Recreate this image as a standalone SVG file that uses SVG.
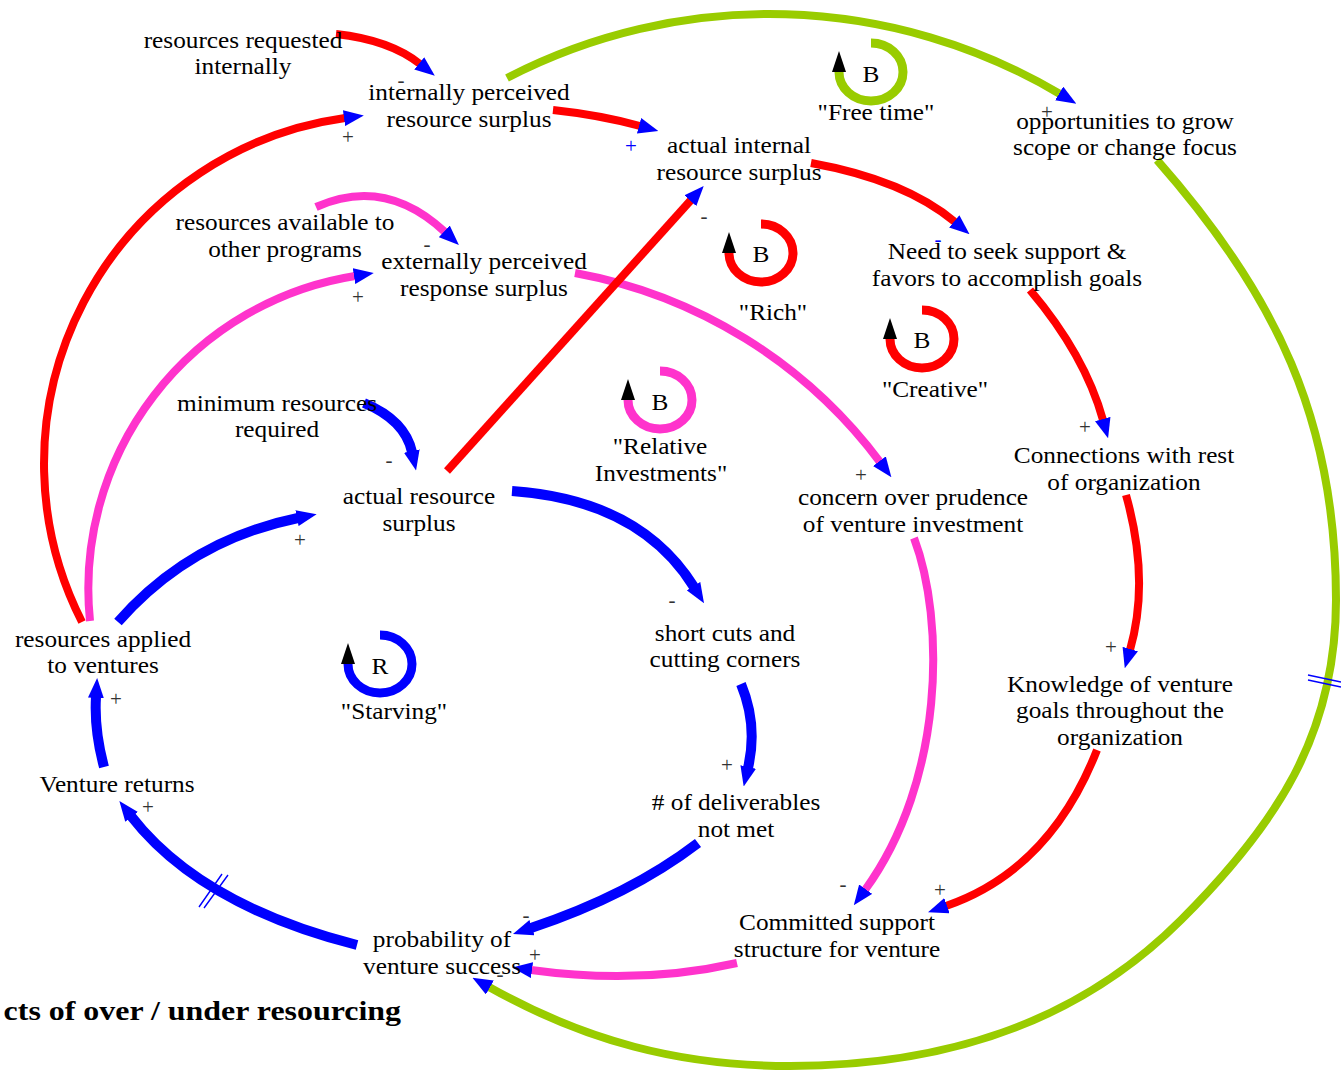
<svg xmlns="http://www.w3.org/2000/svg" width="1341" height="1075" viewBox="0 0 1341 1075" font-family="'Liberation Serif', 'DejaVu Serif', 'Noto Serif', serif">
<style>
text{font-family:'Liberation Serif','DejaVu Serif',serif;font-size:23px;fill:#000;text-anchor:middle}
.pol{font-size:21px;fill:#333}
.polb{font-size:21px;fill:#0000FF}
.title{font-weight:bold;font-size:28px;text-anchor:end}
.c{fill:none;stroke-linecap:butt;marker-end:url(#ah)}
.red{stroke:#FF0000;stroke-width:8}
.mag{stroke:#FF33CC;stroke-width:8}
.grn{stroke:#99CC00;stroke-width:8}
.blu{stroke:#0000FF;stroke-width:10}
.ring{fill:none;stroke-width:9}
.la{fill:#000}
.delay{stroke:#0000FF;stroke-width:1.4;fill:none}
</style>
<defs>
<marker id="ah" viewBox="0 0 20 16" refX="1" refY="8" markerWidth="20" markerHeight="16" markerUnits="userSpaceOnUse" orient="auto"><path d="M0,0 L20,8 L0,16 Z" fill="#0000FF"/></marker>
</defs>
<rect width="1341" height="1075" fill="#fff"/>
<g id="connectors">
<path class="c red" d="M336,34 Q390,40 420,64"/>
<path class="c red" d="M553,110 Q600,115 640,126"/>
<path class="c red" d="M82,622 A349,349 0 0 1 345,118"/>
<path class="c mag" d="M90,621 A316.5,316.5 0 0 1 355,276"/>
<path class="c blu" d="M118,622 Q190,540 298,518"/>
<path class="c mag" d="M316,207 Q385,176 445,232"/>
<path class="c mag" d="M575,273 A491,491 0 0 1 880,462"/>
<path class="c red" d="M447,471 L691,200"/>
<path class="c red" d="M811,163 Q905,180 955,222"/>
<path class="c grn" d="M507,78 A569,569 0 0 1 1060,94"/>
<path class="c grn" d="M1157,160 C1276,295 1336,420 1336,600 C1336,735 1276,825 1181,920 C1075,1026 940,1066 790,1066 C680,1066 585,1041 489,987"/>
<path class="c red" d="M1030,290 Q1085,355 1103,420"/>
<path class="c red" d="M1126,495 Q1150,580 1130,650"/>
<path class="c red" d="M1097,750 Q1050,870 946,906"/>
<path class="c mag" d="M914,538 C945,620 945,780 865,890"/>
<path class="c blu" d="M512,491 Q640,500 694,587"/>
<path class="c blu" d="M364,403 Q405,420 412,452"/>
<path class="c blu" d="M741,684 Q758,725 748,768"/>
<path class="c blu" d="M698,843 Q630,895 531,928"/>
<path class="c mag" d="M737,963 Q640,985 531,970"/>
<path class="c blu" d="M357,945 Q200,905 131,816"/>
<path class="c blu" d="M104,767 Q94,730 96,697"/>
<path class="delay" d="M199,907 L222,874 M204,908 L228,875"/>
<path class="delay" d="M1308,675 L1341,682 M1308,680 L1341,687"/>
</g>
<g id="polarities">
<text class="pol" x="401" y="87">-</text>
<text class="pol" x="348" y="144">+</text>
<text class="polb" x="631" y="153">+</text>
<text class="pol" x="427" y="251">-</text>
<text class="pol" x="358" y="304">+</text>
<text class="pol" x="704" y="223">-</text>
<text class="polb" x="938" y="246">-</text>
<text class="pol" x="1047" y="119">+</text>
<text class="pol" x="389" y="467">-</text>
<text class="pol" x="300" y="547">+</text>
<text class="pol" x="672" y="607">-</text>
<text class="pol" x="116" y="706">+</text>
<text class="pol" x="861" y="482">+</text>
<text class="pol" x="1085" y="434">+</text>
<text class="pol" x="1111" y="654">+</text>
<text class="pol" x="727" y="772">+</text>
<text class="pol" x="843" y="891">-</text>
<text class="pol" x="940" y="897">+</text>
<text class="pol" x="148" y="814">+</text>
<text class="pol" x="526" y="922">-</text>
<text class="pol" x="535" y="962">+</text>
<text class="pol" x="500" y="981">-</text>
</g>
<g id="nodes">
<g id="n-requested" transform="translate(243,0) scale(1.1,1)"><text y="48">resources requested</text><text y="74">internally</text></g>
<g id="n-int-perceived" transform="translate(469,0) scale(1.1,1)"><text y="100">internally perceived</text><text y="127">resource surplus</text></g>
<g id="n-actual-internal" transform="translate(739,0) scale(1.1,1)"><text y="153">actual internal</text><text y="180">resource surplus</text></g>
<g id="n-opportunities" transform="translate(1125,0) scale(1.1,1)"><text y="129">opportunities to grow</text><text y="155">scope or change focus</text></g>
<g id="n-available" transform="translate(285,0) scale(1.1,1)"><text y="230">resources available to</text><text y="257">other programs</text></g>
<g id="n-ext-perceived" transform="translate(484,0) scale(1.1,1)"><text y="269">externally perceived</text><text y="296">response surplus</text></g>
<g id="n-need" transform="translate(1007,0) scale(1.1,1)"><text y="259">Need to seek support &amp;</text><text y="286">favors to accomplish goals</text></g>
<g id="n-minimum" transform="translate(277,0) scale(1.1,1)"><text y="411">minimum resources</text><text y="437">required</text></g>
<g id="n-actual-resource" transform="translate(419,0) scale(1.1,1)"><text y="504">actual resource</text><text y="531">surplus</text></g>
<g id="n-concern" transform="translate(913,0) scale(1.1,1)"><text y="505">concern over prudence</text><text y="532">of venture investment</text></g>
<g id="n-connections" transform="translate(1124,0) scale(1.1,1)"><text y="463">Connections with rest</text><text y="490">of organization</text></g>
<g id="n-applied" transform="translate(103,0) scale(1.1,1)"><text y="647">resources applied</text><text y="673">to ventures</text></g>
<g id="n-shortcuts" transform="translate(725,0) scale(1.1,1)"><text y="641">short cuts and</text><text y="667">cutting corners</text></g>
<g id="n-knowledge" transform="translate(1120,0) scale(1.1,1)"><text y="692">Knowledge of venture</text><text y="718">goals throughout the</text><text y="745">organization</text></g>
<g id="n-returns" transform="translate(117,0) scale(1.1,1)"><text y="792">Venture returns</text></g>
<g id="n-deliverables" transform="translate(736,0) scale(1.1,1)"><text y="810"># of deliverables</text><text y="837">not met</text></g>
<g id="n-committed" transform="translate(837,0) scale(1.1,1)"><text y="930">Committed support</text><text y="957">structure for venture</text></g>
<g id="n-probability" transform="translate(442,0) scale(1.1,1)"><text y="947">probability of</text><text y="974">venture success</text></g>
</g>
<g id="loops">
<g id="loop-free-time"><path class="ring" stroke="#99CC00" d="M871,43 A32,29 0 1 1 839,72"/><path class="la" d="M832,72 L846,72 L839,51 Z"/><text transform="translate(871,82) scale(1.1,1)">B</text><text transform="translate(876,120) scale(1.1,1)">"Free time"</text></g>
<g id="loop-rich"><path class="ring" stroke="#FF0000" d="M761,224 A32,29 0 1 1 729,253"/><path class="la" d="M722,253 L736,253 L729,232 Z"/><text transform="translate(761,262) scale(1.1,1)">B</text><text transform="translate(773,320) scale(1.1,1)">"Rich"</text></g>
<g id="loop-creative"><path class="ring" stroke="#FF0000" d="M922,310 A32,29 0 1 1 890,339"/><path class="la" d="M883,339 L897,339 L890,318 Z"/><text transform="translate(922,348) scale(1.1,1)">B</text><text transform="translate(935,397) scale(1.1,1)">"Creative"</text></g>
<g id="loop-relative"><path class="ring" stroke="#FF33CC" d="M660,371 A32,29 0 1 1 628,400"/><path class="la" d="M621,400 L635,400 L628,379 Z"/><text transform="translate(660,410) scale(1.1,1)">B</text><text transform="translate(660,454) scale(1.1,1)">"Relative</text><text transform="translate(661,481) scale(1.1,1)">Investments"</text></g>
<g id="loop-starving"><path class="ring" stroke="#0000FF" d="M380,635 A32,29 0 1 1 348,664"/><path class="la" d="M341,664 L355,664 L348,643 Z"/><text transform="translate(380,674) scale(1.1,1)">R</text><text transform="translate(394,719) scale(1.1,1)">"Starving"</text></g>
</g>
<text class="title" transform="translate(401,1020) scale(1.14,1)">cts of over / under resourcing</text>
</svg>
